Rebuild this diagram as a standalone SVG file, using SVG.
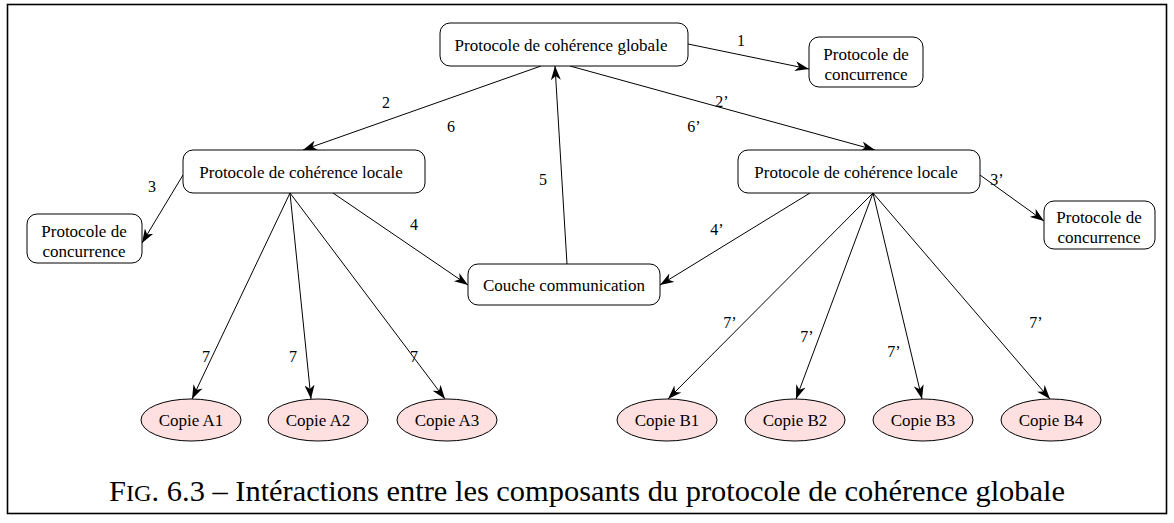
<svg xmlns="http://www.w3.org/2000/svg" width="1174" height="523" viewBox="0 0 1174 523">
<style>
.box{fill:#fff;stroke:#000;stroke-width:1}
.ell{fill:#ffe0e0;stroke:#000;stroke-width:1}
.t{font-family:"Liberation Serif","Times New Roman",serif;font-size:17px;fill:#000;text-anchor:middle}
.lbl{font-family:"Liberation Serif","Times New Roman",serif;font-size:16px;fill:#000;text-anchor:middle}
.e{stroke:#000;stroke-width:1;fill:none;marker-end:url(#ah)}
.cap{font-family:"Liberation Serif","Times New Roman",serif;font-size:30px;fill:#000}
</style>
<defs>
<marker id="ah" viewBox="0 0 14 10" refX="14" refY="5" markerWidth="14" markerHeight="10" markerUnits="userSpaceOnUse" orient="auto">
<path d="M0,0 L14,5 L0,10 L4,5 z" fill="#000"/>
</marker>
</defs>
<rect x="7.5" y="4.5" width="1159" height="509" fill="#fff" stroke="#000" stroke-width="1.6"/>
<g id="connectors">
<path class="e" d="M688,44 L809,69"/>
<path class="e" d="M541,66 L303,150"/>
<path class="e" d="M570,66 L875,150"/>
<path class="e" d="M567,264 L555,66"/>
<path class="e" d="M183,175 L142,243"/>
<path class="e" d="M333,193 L468,285"/>
<path class="e" d="M810,193 L660,285"/>
<path class="e" d="M980,175 L1044,221"/>
<path class="e" d="M290,193 L192,399"/>
<path class="e" d="M290,193 L311,399"/>
<path class="e" d="M290,193 L445,399"/>
<path class="e" d="M873,193 L668,399"/>
<path class="e" d="M873,193 L796,399"/>
<path class="e" d="M873,193 L922,399"/>
<path class="e" d="M873,193 L1050,399"/>
</g>
<g id="labels">
<text class="lbl" x="741" y="46">1</text>
<text class="lbl" x="386" y="108">2</text>
<text class="lbl" x="451" y="132">6</text>
<text class="lbl" x="722" y="107">2’</text>
<text class="lbl" x="694" y="132">6’</text>
<text class="lbl" x="543" y="185">5</text>
<text class="lbl" x="152" y="192">3</text>
<text class="lbl" x="414" y="230">4</text>
<text class="lbl" x="717" y="235">4’</text>
<text class="lbl" x="997" y="185">3’</text>
<text class="lbl" x="206" y="362">7</text>
<text class="lbl" x="293" y="362">7</text>
<text class="lbl" x="414" y="362">7</text>
<text class="lbl" x="730" y="328">7’</text>
<text class="lbl" x="807" y="342">7’</text>
<text class="lbl" x="894" y="357">7’</text>
<text class="lbl" x="1036" y="328">7’</text>
</g>
<g id="global">
<rect class="box" x="440" y="23" width="248" height="43" rx="10"/>
<text class="t" x="561" y="51">Protocole de cohérence globale</text>
</g>
<g id="conc-top">
<rect class="box" x="809" y="37" width="114" height="50" rx="10"/>
<text class="t" x="866" y="60">Protocole de</text>
<text class="t" x="866" y="80">concurrence</text>
</g>
<g id="local-left">
<rect class="box" x="183" y="150" width="242" height="43" rx="10"/>
<text class="t" x="301" y="178">Protocole de cohérence locale</text>
</g>
<g id="conc-left">
<rect class="box" x="27" y="214" width="115" height="49" rx="10"/>
<text class="t" x="84" y="237">Protocole de</text>
<text class="t" x="84" y="257">concurrence</text>
</g>
<g id="couche">
<rect class="box" x="468" y="264" width="192" height="41" rx="10"/>
<text class="t" x="564" y="291">Couche communication</text>
</g>
<g id="local-right">
<rect class="box" x="738" y="150" width="242" height="43" rx="10"/>
<text class="t" x="856" y="178">Protocole de cohérence locale</text>
</g>
<g id="conc-right">
<rect class="box" x="1044" y="201" width="111" height="48" rx="10"/>
<text class="t" x="1099" y="223">Protocole de</text>
<text class="t" x="1099" y="243">concurrence</text>
</g>
<g id="A1"><ellipse class="ell" cx="191" cy="420" rx="50" ry="21"/><text class="t" x="191" y="426">Copie A1</text></g>
<g id="A2"><ellipse class="ell" cx="318" cy="420" rx="50" ry="21"/><text class="t" x="318" y="426">Copie A2</text></g>
<g id="A3"><ellipse class="ell" cx="447" cy="420" rx="50" ry="21"/><text class="t" x="447" y="426">Copie A3</text></g>
<g id="B1"><ellipse class="ell" cx="667" cy="420" rx="50" ry="21"/><text class="t" x="667" y="426">Copie B1</text></g>
<g id="B2"><ellipse class="ell" cx="795" cy="420" rx="50" ry="21"/><text class="t" x="795" y="426">Copie B2</text></g>
<g id="B3"><ellipse class="ell" cx="923" cy="420" rx="50" ry="21"/><text class="t" x="923" y="426">Copie B3</text></g>
<g id="B4"><ellipse class="ell" cx="1051" cy="420" rx="50" ry="21"/><text class="t" x="1051" y="426">Copie B4</text></g>
<text class="cap" x="109" y="501" textLength="956" lengthAdjust="spacingAndGlyphs">F<tspan font-size="24">IG</tspan>. 6.3 – Intéractions entre les composants du protocole de cohérence globale</text>
</svg>
